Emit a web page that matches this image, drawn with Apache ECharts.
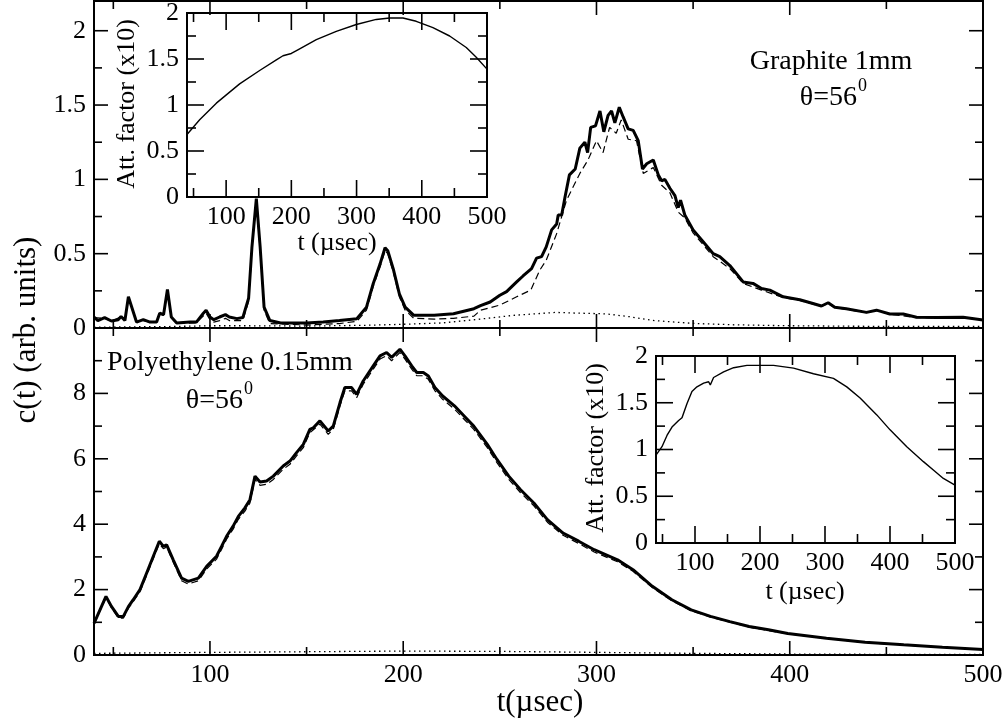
<!DOCTYPE html>
<html><head><meta charset="utf-8">
<script src="https://cdn.jsdelivr.net/npm/echarts@6/dist/echarts.min.js"></script>
<style>html,body{margin:0;padding:0;background:#fff}#c{width:1006px;height:725px}</style>
</head><body><div id="c"></div>
<script>
// ---------- tick values ----------
const xMajor = [100, 200, 300, 400, 500];
const xMinor = [50, 150, 250, 350, 450];
const topYMajor = [0, 0.5, 1, 1.5, 2];
const topYMinor = [0.25, 0.75, 1.25, 1.75];
const botYMajor = [0, 2, 4, 6, 8, 10];
const botYLabels = [0, 2, 4, 6, 8];
const botYMinor = [1, 3, 5, 7, 9];
const insYMajor = [0, 0.5, 1, 1.5, 2];
const insYMinor = [0.25, 0.75, 1.25, 1.75];

// ---------- Graphite 1mm (top panel) ----------
const graphiteSolidT = [40,42,45.5,49,52.5,54,56,57.8,62,65.5,69,72.4,74,76,78,80,82.8,89.7,93,96.6,98,100,102,105,108,110,114,117,120,121.7,124,126,128,131,136.6,150,158.6,167,176,181,184.5,188,190.6,192,195,198,201,205.5,216,226,236.6,240,245,250,253.5,258.7,262,266.4,269,271.6,274,276.8,279.4,280.2,282,283.7,286,289,291.4,294,295.4,297,299.5,301.8,303.8,306,307.8,309.5,311.8,313.8,316.4,319,321.6,323.8,326,329.4,332,333.7,335.4,338,340.6,342.3,343.5,345.7,350,355.2,360.4,363.8,369,375.9,381,385.4,389.7,396.6,405.2,412,416.4,419.9,423.3,429.3,439.7,444.9,451.8,458.7,465.6,475.9,489.7,500];
const graphiteSolidC = [0.074,0.05,0.07,0.047,0.056,0.078,0.05,0.21,0.04,0.056,0.04,0.04,0.1,0.09,0.26,0.074,0.034,0.04,0.04,0.1,0.12,0.074,0.056,0.074,0.09,0.074,0.063,0.07,0.2,0.54,0.87,0.54,0.14,0.05,0.034,0.034,0.04,0.05,0.063,0.14,0.3,0.43,0.54,0.52,0.39,0.23,0.14,0.085,0.085,0.096,0.13,0.15,0.175,0.22,0.245,0.31,0.35,0.40,0.47,0.48,0.546,0.66,0.70,0.76,0.76,0.88,1.03,1.07,1.21,1.25,1.18,1.35,1.36,1.46,1.32,1.43,1.46,1.38,1.485,1.42,1.34,1.33,1.26,1.07,1.105,1.13,1.03,0.99,1.0,0.94,0.89,0.81,0.86,0.76,0.66,0.58,0.50,0.48,0.42,0.31,0.30,0.266,0.255,0.21,0.19,0.165,0.148,0.17,0.14,0.13,0.105,0.12,0.094,0.094,0.072,0.07,0.072,0.054];

const graphiteDashT = [40,45.5,49,54,56,57.8,62,65.5,69,72.4,74,76,78,80,82.8,93,98,100,102,105,108,110,117,120,121.7,124,126,128,131,150,167,176,181,184.5,188,190.6,192,195,198,201,205.5,216,226,236.6,240,250,258.7,266,270.7,274,279.4,284.5,291.4,295.6,300,303.4,306.8,310.2,312.8,316.4,320.7,324.2,329.4,333.7,338,342.3,345.7,350,360.4,369,375.9,385.4,396.6,405.2,416.4,419.9,423.3,439.7,444.9,451.8,465.6,475.9,489.7,500];
const graphiteDashC = [0.07,0.065,0.045,0.075,0.05,0.2,0.04,0.05,0.04,0.04,0.095,0.085,0.25,0.07,0.03,0.035,0.1,0.055,0.04,0.05,0.065,0.05,0.05,0.18,0.52,0.85,0.52,0.12,0.03,0.02,0.03,0.045,0.12,0.28,0.41,0.52,0.5,0.37,0.21,0.12,0.065,0.06,0.065,0.08,0.12,0.154,0.21,0.255,0.39,0.456,0.635,0.86,1.04,1.13,1.26,1.18,1.35,1.31,1.40,1.27,1.26,1.04,1.08,0.96,0.91,0.78,0.74,0.64,0.48,0.40,0.30,0.255,0.205,0.185,0.145,0.165,0.137,0.103,0.118,0.092,0.07,0.068,0.07,0.053];

const graphiteDotT = [40,60,80,100,120,150,180,200,220,240,257,268,279,290,297,305,317,330,350,370,395,430,470,500];
const graphiteDotC = [0.005,0.008,0.01,0.015,0.015,0.013,0.018,0.025,0.034,0.06,0.085,0.095,0.105,0.1,0.098,0.095,0.076,0.05,0.031,0.022,0.016,0.012,0.01,0.01];

// ---------- Polyethylene 0.15mm (bottom panel) ----------
const polySolidT = [40,43.1,46.2,49.1,52.6,55.2,57.8,60.3,63.8,67.2,70.7,73.8,75.9,77.6,81,85.3,88.8,94,98.3,103.4,106,108.6,112,114.7,118.1,120.7,123.3,125.9,129.3,132.8,137.9,141.4,144.8,148.3,151.7,153.5,156.9,161.2,163.8,167.3,169.8,173.3,175.9,179.3,184.5,188,191.4,194,198.3,200.9,204.4,207,210.4,213,216.4,220.4,226.5,231.5,236.5,243.5,248.5,254.6,260.6,267.6,274.6,282.7,290.8,298.8,310.9,318.9,328.9,339,349,359,369,379,389,399,419,439,459,479,500];
const polySolidC = [0.97,1.38,1.79,1.48,1.18,1.18,1.48,1.69,2.0,2.5,3.02,3.48,3.32,3.37,2.91,2.35,2.25,2.35,2.71,3.02,3.32,3.63,3.94,4.24,4.5,4.75,5.47,5.29,5.32,5.47,5.78,5.93,6.19,6.44,6.9,6.95,7.16,6.85,7.0,7.72,8.18,8.18,7.97,8.38,8.84,9.15,9.25,9.1,9.35,9.15,8.84,8.64,8.64,8.53,8.18,7.92,7.62,7.31,7.0,6.44,5.98,5.47,5.06,4.65,4.14,3.73,3.48,3.22,2.91,2.61,2.10,1.69,1.38,1.18,1.02,0.87,0.77,0.66,0.51,0.39,0.31,0.24,0.17];

const polyDashT = [40,43.1,46.2,49.1,52.6,55.2,57.8,60.3,63.8,67.2,70.7,73.8,75.9,77.6,81,85.3,88.8,94,98.3,103.4,106,108.6,112,114.7,118.1,120.7,123.3,125.9,129.3,132.8,137.9,141.4,144.8,148.3,151.7,156.9,161.2,163.8,167.3,169.8,173.3,175.9,179.3,184.5,188,191.4,194,198.3,200.9,204.4,207,210.4,213,216.4,220.4,226.5,231.5,236.5,243.5,248.5,254.6,260.6,267.6,274.6,282.7,290.8,298.8,310.9,318.9,328.9,339,349,359,379,399,439,479,500];
const polyDashC = [0.95,1.35,1.75,1.44,1.13,1.13,1.43,1.63,1.94,2.43,2.95,3.4,3.25,3.3,2.84,2.27,2.17,2.27,2.63,2.93,3.23,3.54,3.85,4.15,4.4,4.65,5.37,5.19,5.22,5.37,5.68,5.83,6.09,6.34,6.8,7.06,6.75,6.9,7.62,8.08,8.08,7.87,8.28,8.74,9.05,9.15,9.0,9.25,9.05,8.74,8.54,8.54,8.43,8.08,7.82,7.52,7.21,6.9,6.34,5.88,5.37,4.97,4.56,4.06,3.66,3.41,3.15,2.85,2.56,2.06,1.66,1.35,1.16,0.85,0.645,0.38,0.235,0.165];

const polyDotT = [40,100,150,200,250,300,350,400,450,500];
const polyDotC = [0.05,0.08,0.1,0.12,0.11,0.08,0.05,0.03,0.02,0.015];

// ---------- insets: attenuation factor (x10) ----------
const insetGraphiteT = [40,59.4,85,100.3,120.7,151.4,177,187.2,200,210,238.3,268.9,299.6,330.2,350.7,371.1,391.5,417.1,442.7,468.2,483.5,500];
const insetGraphiteA = [0.68,0.84,1.02,1.11,1.23,1.375,1.49,1.535,1.56,1.6,1.71,1.80,1.875,1.93,1.946,1.946,1.91,1.84,1.75,1.625,1.52,1.39];
const insetPolyT = [40,49.2,56.9,64.6,74.8,80,87.6,95.3,103,113.3,121,123.5,128.6,144,159.4,179.9,200.3,220.8,251.6,282.3,313,333.5,354,379.7,400.1,425.8,451.4,466.7,482.1,500];
const insetPolyA = [0.94,1.03,1.15,1.24,1.31,1.34,1.49,1.62,1.67,1.71,1.725,1.69,1.77,1.83,1.875,1.90,1.90,1.90,1.87,1.81,1.76,1.67,1.55,1.37,1.21,1.03,0.87,0.78,0.69,0.62];

// ---------- layout ----------
const FONT = '"Liberation Serif", "Times New Roman", serif';
const GRIDS = [
  { left: 94, top: 1, width: 889, height: 327, xr: [40, 500], yr: [0, 2.2], bg: 'transparent' },
  { left: 94, top: 328, width: 889, height: 327, xr: [40, 500], yr: [0, 10], bg: 'transparent' },
  { left: 187, top: 10, width: 300, height: 187, xr: [40, 500], yr: [0, 2], bg: '#fff' },
  { left: 656, top: 356, width: 299, height: 187, xr: [40, 500], yr: [0, 2], bg: '#fff' }
];
const zip = (a, b) => a.map((v, i) => [v, b[i]]);

function xAx(g, labels, show) {
  return { type: 'value', gridIndex: g, min: GRIDS[g].xr[0], max: GRIDS[g].xr[1],
    splitLine: { show: false }, axisLine: { show: false }, axisTick: { show: false },
    axisLabel: { show: show, customValues: labels, margin: 7, color: '#000', fontFamily: FONT, fontSize: 26 } };
}
function yAx(g, labels) {
  return { type: 'value', gridIndex: g, min: GRIDS[g].yr[0], max: GRIDS[g].yr[1],
    splitLine: { show: false }, axisLine: { show: false }, axisTick: { show: false },
    axisLabel: { show: true, customValues: labels, margin: 8, color: '#000', fontFamily: FONT, fontSize: 26 } };
}

const xAxis = [xAx(0, xMajor, false), xAx(1, xMajor, true), xAx(2, xMajor, true), xAx(3, xMajor, true)];
const yAxis = [yAx(0, topYMajor), yAx(1, botYLabels), yAx(2, insYMajor), yAx(3, insYMajor)];

function line(g, t, v, width, type) {
  return { type: 'line', xAxisIndex: g, yAxisIndex: g, data: zip(t, v),
    showSymbol: false, symbol: 'none', smooth: false,
    lineStyle: { color: '#000', width: width, type: type } };
}

const series = [
  line(0, graphiteDotT, graphiteDotC, 1.3, [1.5, 3.5]),
  line(0, graphiteDashT, graphiteDashC, 1.2, [7, 4]),
  line(0, graphiteSolidT, graphiteSolidC, 3, 'solid'),
  line(1, polyDotT, polyDotC, 1.3, [1.5, 3.5]),
  line(1, polyDashT, polyDashC, 1.2, [7, 4]),
  line(1, polySolidT, polySolidC, 3, 'solid'),
  line(2, insetGraphiteT, insetGraphiteA, 1.4, 'solid'),
  line(3, insetPolyT, insetPolyA, 1.4, 'solid')
];

function txt(text, x, y, size, opts) {
  return Object.assign({ type: 'text', x: x, y: y, z: 100,
    style: { text: text, fill: '#000', font: size + 'px ' + FONT, align: 'center', verticalAlign: 'middle' } }, opts || {});
}
function txtAl(text, x, y, size, align) {
  return { type: 'text', x: x, y: y, z: 100,
    style: { text: text, fill: '#000', font: size + 'px ' + FONT, align: align, verticalAlign: 'middle' } };
}

const texts = [
  txt('c(t) (arb. units)', 27, 330, 31, { rotation: Math.PI / 2 }),
  txt('t(\u00b5sec)', 540, 703, 31),
  txt('Graphite 1mm', 831, 62, 28),
  txtAl('\u03b8=56', 857, 98, 28, 'right'),
  txtAl('0', 858, 86, 18, 'left'),
  txt('Polyethylene 0.15mm', 230, 363, 28),
  txtAl('\u03b8=56', 243, 401, 28, 'right'),
  txtAl('0', 244, 389, 18, 'left'),
  txt('t (\u00b5sec)', 337, 243, 26),
  txt('Att. factor (x10)', 127, 104, 26, { rotation: Math.PI / 2 }),
  txt('t (\u00b5sec)', 805, 592, 26),
  txt('Att. factor (x10)', 596, 448, 26, { rotation: Math.PI / 2 })
];

const chart = echarts.init(document.getElementById('c'), null, { renderer: 'canvas' });
chart.setOption({
  animation: false,
  backgroundColor: '#fff',
  grid: GRIDS.map(G => ({ left: G.left, top: G.top, width: G.width, height: G.height,
    show: true, borderColor: '#000', borderWidth: 2, backgroundColor: G.bg })),
  xAxis: xAxis,
  yAxis: yAxis,
  series: series,
  graphic: texts
});

// ---------- inward tick marks (thin filled bars) placed through the axis scales ----------
function toPx(g, x, y) {
  let p = null;
  try { p = chart.convertToPixel({ xAxisIndex: g, yAxisIndex: g }, [x, y]); } catch (e) { p = null; }
  if (!p || !isFinite(p[0]) || !isFinite(p[1])) {
    try { p = chart.convertToPixel({ gridIndex: g }, [x, y]); } catch (e) { p = null; }
  }
  if (!p || !isFinite(p[0]) || !isFinite(p[1])) {
    const G = GRIDS[g];
    p = [G.left + (x - G.xr[0]) / (G.xr[1] - G.xr[0]) * G.width,
         G.top + G.height - (y - G.yr[0]) / (G.yr[1] - G.yr[0]) * G.height];
  }
  return p;
}
const TW = 1.6;
function bar(x, y, w, h) {
  return { type: 'rect', z: 90, silent: true, shape: { x: x, y: y, width: w, height: h },
    style: { fill: '#000', stroke: null } };
}
function tickMarks(g, dim, values, len) {
  const G = GRIDS[g], out = [];
  values.forEach(v => {
    if (dim === 'x') {
      const pb = toPx(g, v, G.yr[0]), pt = toPx(g, v, G.yr[1]);
      out.push(bar(pb[0] - TW / 2, pb[1] - len, TW, len), bar(pt[0] - TW / 2, pt[1], TW, len));
    } else {
      const pl = toPx(g, G.xr[0], v), pr = toPx(g, G.xr[1], v);
      out.push(bar(pl[0], pl[1] - TW / 2, len, TW), bar(pr[0] - len, pr[1] - TW / 2, len, TW));
    }
  });
  return out;
}
const tickEls = [].concat(
  tickMarks(0, 'x', xMajor, 14), tickMarks(0, 'x', xMinor, 8), tickMarks(0, 'y', topYMajor, 14), tickMarks(0, 'y', topYMinor, 8),
  tickMarks(1, 'x', xMajor, 14), tickMarks(1, 'x', xMinor, 8), tickMarks(1, 'y', botYMajor, 14), tickMarks(1, 'y', botYMinor, 8),
  tickMarks(2, 'x', xMajor, 17), tickMarks(2, 'x', xMinor, 9), tickMarks(2, 'y', insYMajor, 17), tickMarks(2, 'y', insYMinor, 9),
  tickMarks(3, 'x', xMajor, 17), tickMarks(3, 'x', xMinor, 9), tickMarks(3, 'y', insYMajor, 17), tickMarks(3, 'y', insYMinor, 9)
);
chart.setOption({ graphic: texts.concat(tickEls) });
</script>
</body></html>
